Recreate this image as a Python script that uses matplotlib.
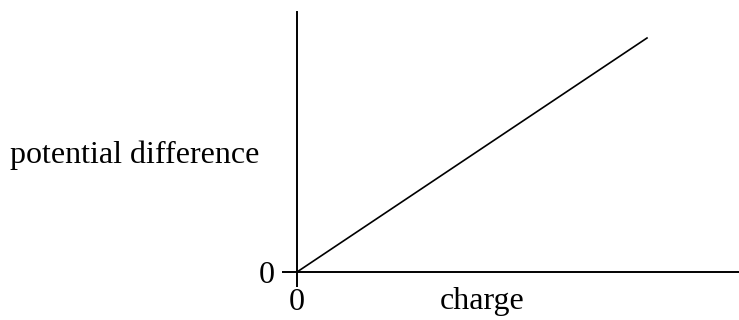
import matplotlib
matplotlib.use('Agg')
import matplotlib.pyplot as plt

plt.rcParams.update({
    'font.family': 'serif',
    'font.serif': ['Liberation Serif', 'DejaVu Serif'],
    'font.size': 23,
})

# straight line through the origin
charge = [0, 10]
potential_difference = [0, 10]
tick_values = [0]
tick_labels = ['0']

W, H = 739, 320
fig = plt.figure(figsize=(W / 100, H / 100), dpi=100)
ax = fig.add_axes([297 / W, 48 / H, (W - 297) / W, 260 / H])

ax.plot(charge, potential_difference, color='black', linewidth=1.2)

ax.set_xlim(0, 10 * 442 / 350)
ax.set_ylim(0, 10 * 260 / 234)
ax.set_xticks(tick_values)
ax.set_xticklabels(tick_labels)
ax.set_yticks(tick_values)
ax.set_yticklabels(tick_labels)
ax.tick_params(direction='out', length=10.8, width=1.4, labelsize=23)
ax.tick_params(axis='y', pad=5)
ax.tick_params(axis='x', pad=1)

for side in ['top', 'right']:
    ax.spines[side].set_visible(False)
for side in ['left', 'bottom']:
    ax.spines[side].set_linewidth(1.4)

fig.text(10 / W, 1 - 155 / H, 'potential difference', ha='left', va='center', fontsize=23)
fig.text(482 / W, 1 - 301 / H, 'charge', ha='center', va='center', fontsize=23)

fig.savefig('out.png', dpi=100, facecolor='white')
